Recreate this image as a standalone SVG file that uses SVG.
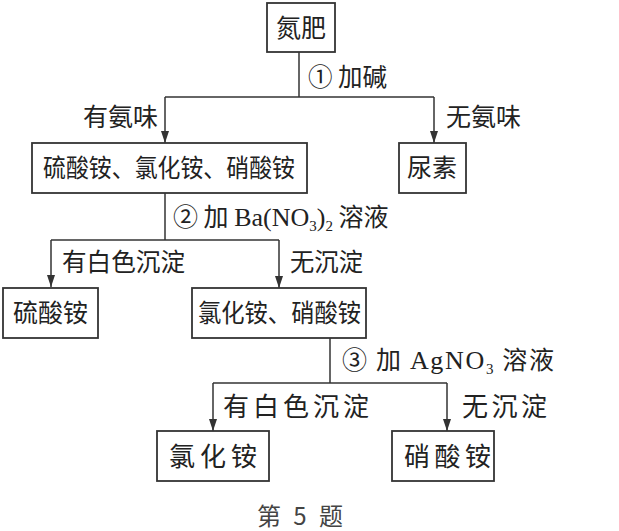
<svg xmlns="http://www.w3.org/2000/svg" width="619" height="531" viewBox="0 0 619 531">
<style>
.box{fill:#fff;stroke:#333;stroke-width:1.8}
.ln{fill:none;stroke:#333;stroke-width:1.5}
text{font-family:"Noto Sans CJK SC","Noto Sans",sans-serif;font-size:25px;fill:#222}
.lat{font-family:"Liberation Serif",serif;font-size:26px}
.sub{font-family:"Liberation Serif",serif;font-size:15px}
.cap{font-size:24px;fill:#444}
.big{font-size:26px}
</style>
<defs>
<marker id="ah" markerWidth="12" markerHeight="8" refX="12" refY="4" orient="auto" markerUnits="userSpaceOnUse" viewBox="0 0 12 8">
<path d="M0,0 L12,4 L0,8 Z" fill="#333"/>
</marker>
</defs>
<rect width="619" height="531" fill="#fff"/>
<g id="connectors">
<path class="ln" d="M299,52 V97"/>
<path class="ln" d="M165,97 H434"/>
<path class="ln" d="M165,97 V143" marker-end="url(#ah)"/>
<path class="ln" d="M434,97 V143" marker-end="url(#ah)"/>
<path class="ln" d="M165,193 V240"/>
<path class="ln" d="M51,240 H279"/>
<path class="ln" d="M51,240 V287" marker-end="url(#ah)"/>
<path class="ln" d="M279,240 V288" marker-end="url(#ah)"/>
<path class="ln" d="M330,338 V383"/>
<path class="ln" d="M213,383 H447"/>
<path class="ln" d="M213,383 V431" marker-end="url(#ah)"/>
<path class="ln" d="M447,383 V431" marker-end="url(#ah)"/>
</g>
<g id="labels">
<text x="308" y="86" textLength="79" lengthAdjust="spacingAndGlyphs">① 加碱</text>
<text x="158" y="126" text-anchor="end">有氨味</text>
<text x="446" y="126">无氨味</text>
<text x="173" y="226">② 加 <tspan class="lat">Ba(NO</tspan><tspan class="sub" dy="5">3</tspan><tspan class="lat" dy="-5">)</tspan><tspan class="sub" dy="5">2</tspan><tspan dy="-5"> 溶液</tspan></text>
<text x="62" y="271" textLength="123" lengthAdjust="spacingAndGlyphs">有白色沉淀</text>
<text x="290" y="271" textLength="73" lengthAdjust="spacingAndGlyphs">无沉淀</text>
<text x="342" y="369" textLength="212" lengthAdjust="spacing">③ 加 <tspan class="lat">AgNO</tspan><tspan class="sub" dy="5">3</tspan><tspan dy="-5"> 溶液</tspan></text>
<text class="big" x="223" y="416" textLength="146" lengthAdjust="spacing">有白色沉淀</text>
<text class="big" x="462" y="416" textLength="85" lengthAdjust="spacing">无沉淀</text>
</g>
<g id="n-danfei">
<rect class="box" x="267" y="3" width="68" height="49"/>
<text x="301" y="37" text-anchor="middle">氮肥</text>
</g>
<g id="n-three">
<rect class="box" x="32" y="143" width="275" height="50"/>
<text x="43" y="177" textLength="252" lengthAdjust="spacingAndGlyphs">硫酸铵、氯化铵、硝酸铵</text>
</g>
<g id="n-niaosu">
<rect class="box" x="399" y="143" width="67" height="50"/>
<text x="432" y="177" text-anchor="middle">尿素</text>
</g>
<g id="n-liusuan">
<rect class="box" x="3" y="288" width="95" height="50"/>
<text x="13" y="322" textLength="75" lengthAdjust="spacingAndGlyphs">硫酸铵</text>
</g>
<g id="n-two">
<rect class="box" x="192" y="288" width="174" height="50"/>
<text x="198" y="322" textLength="163" lengthAdjust="spacingAndGlyphs">氯化铵、硝酸铵</text>
</g>
<g id="n-lvhua">
<rect class="box" x="157" y="431" width="112" height="50"/>
<text class="big" x="169" y="466" textLength="88" lengthAdjust="spacing">氯化铵</text>
</g>
<g id="n-xiaosuan">
<rect class="box" x="392" y="431" width="102" height="50"/>
<text class="big" x="404" y="466" textLength="87" lengthAdjust="spacing">硝酸铵</text>
</g>
<text class="cap" x="257" y="525" textLength="86" lengthAdjust="spacing">第 5 题</text>
</svg>
